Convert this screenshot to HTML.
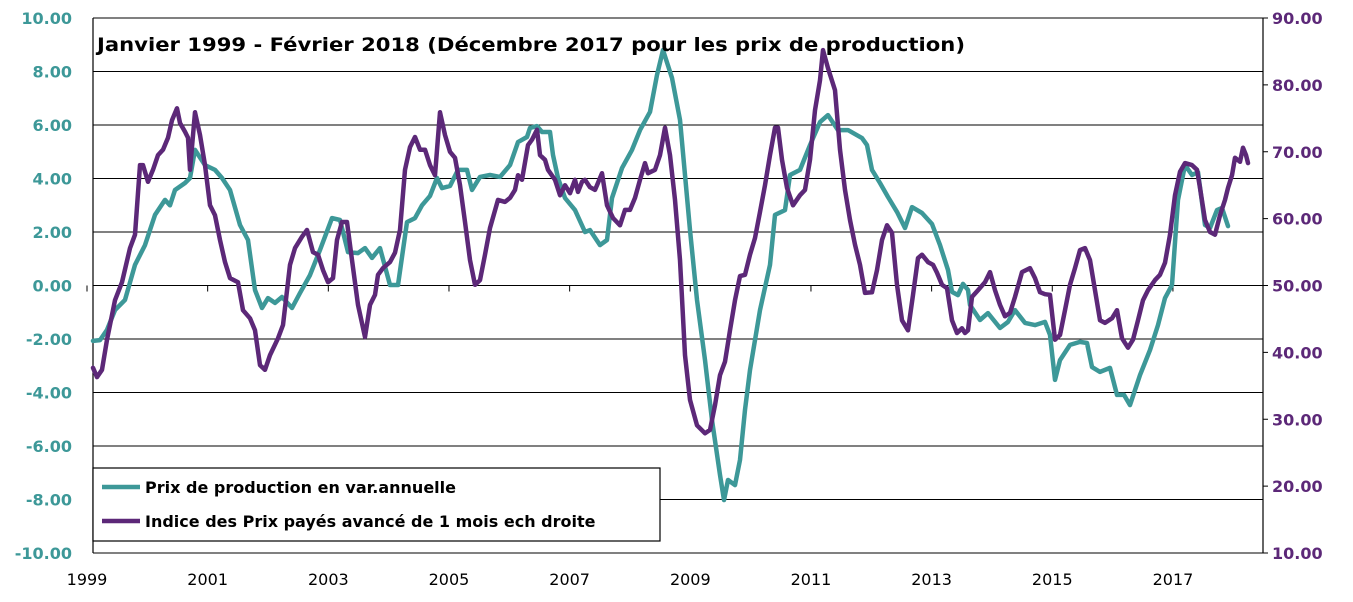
<!DOCTYPE html>
<html><head><meta charset="utf-8"><style>
html,body{margin:0;padding:0;background:#fff;}
svg{display:block;font-family:"DejaVu Sans","Liberation Sans",sans-serif;}
</style></head><body>
<svg id="chart" width="1353" height="602" viewBox="0 0 1353 602"></svg>
<script>
// Prix de production (left axis, %), month index from Jan 1999
const prodMonths=[0,1.4,2.8,4.4,6.4,8.4,10.4,12.4,14.4,15.4,16.4,18.4,19.4,20.4,22.4,24.4,25.8,27.4,29.4,31,32.4,33.8,35,36.4,37.8,39.8,41.4,43.4,45.4,47.8,49.4,51,53,54.4,55.8,57.4,59.4,61,62.8,64.4,65.8,67.4,68.8,69.8,71.4,73,74.8,75.8,77.4,79.4,81.4,83.4,85,86.8,87.4,88.8,89.8,91.4,92,93,94.4,96.4,98.4,99.4,101.4,102.8,103.8,105.8,107.8,109.4,111.4,112.8,114,115.8,117.4,119.4,120.8,122.4,123.8,125.4,126.2,127,128.4,129.4,130.4,131.4,133.4,135.4,136.4,138.4,139.4,141.4,143.4,145.4,147,149,151,153.8,154.8,155.8,157.4,159,160.8,162.4,163.8,165.8,167.8,169.4,171,171.8,173,174,175,175.4,177.4,179,181.4,183,184.4,186.4,188.4,190.4,191.4,192.4,193.4,195.4,197.4,198.8,199.8,201.4,203.4,204.8,206.2,207.4,209.4,211.4,213,214.4,215.8,217,218.4,219.8,221,222.4,223.4,224.8,225.8,227];
const prodValues=[-2.07,-2.04,-1.66,-0.92,-0.54,0.77,1.51,2.64,3.2,3.0,3.57,3.83,4.02,5.07,4.5,4.32,4.02,3.57,2.26,1.7,-0.17,-0.84,-0.47,-0.65,-0.43,-0.84,-0.28,0.39,1.33,2.52,2.45,1.25,1.21,1.4,1.03,1.4,0.02,0.02,2.37,2.52,3.0,3.35,4.02,3.64,3.72,4.32,4.32,3.57,4.06,4.13,4.06,4.5,5.36,5.55,5.89,5.96,5.74,5.74,4.88,4.02,3.27,2.82,2.0,2.07,1.51,1.7,3.27,4.39,5.07,5.81,6.49,7.87,8.8,7.76,6.19,2.07,-0.54,-2.79,-5.03,-7.08,-8.02,-7.27,-7.46,-6.52,-4.65,-3.16,-0.92,0.77,2.64,2.82,4.13,4.32,5.25,6.11,6.37,5.81,5.81,5.51,5.25,4.32,3.83,3.31,2.75,2.15,2.93,2.71,2.3,1.51,0.58,-0.24,-0.36,0.06,-0.17,-0.73,-1.29,-1.03,-1.59,-1.36,-0.92,-1.4,-1.48,-1.36,-1.85,-3.53,-2.79,-2.22,-2.11,-2.15,-3.05,-3.23,-3.08,-4.09,-4.09,-4.47,-3.35,-2.41,-1.48,-0.47,0.02,3.2,4.5,4.13,4.24,2.26,2.15,2.82,2.9,2.22];
// Indice des prix payés (right axis)
const payMonths=[0,0.8,1.8,2.8,4.4,5.8,7.4,8.4,9.4,10,11,12,13,14,15,15.8,16.8,17.4,18.4,19,19.4,20.4,21.4,22.4,23.4,24.4,25.4,26.4,27.4,29,30,31.4,32.4,33.4,34.4,35.4,37,38,39.4,40.4,41.8,42.8,44,45,46,47,48,48.8,49.8,50.8,51.8,53,54.4,55.4,56.4,57,58,59.4,60.4,61.4,62.4,63.4,64.4,65.4,66.4,67.4,68.4,69.4,70.4,71.4,72.4,73.4,74.4,75.4,76.4,77.4,78.4,79.4,81,82.4,83.4,84.4,85,85.8,87,87.8,88.8,89.4,90.4,91,92.4,93.4,94.4,95.4,96.4,97,97.8,98.4,99.4,100.4,100.8,101.8,102.8,104,105.4,106.4,107.4,108.4,109.4,110.4,111,112.4,113.4,114.4,115.4,116.4,117.4,118.4,119.4,120.8,122.4,123.4,124.4,125.4,126.4,127.4,128.4,129.4,130.4,131.4,132.4,133.4,134.4,135.4,136.4,137,137.8,138.8,140,141.4,142.4,143.4,144.4,145.4,146,147,148.4,149.4,150.4,151.4,152.4,153.4,154.4,155.8,156.8,157.8,158.8,159.8,160.8,161.8,163,164,165,165.8,167,168,168.8,169.8,170.8,171.8,172.8,173.8,174.4,175,175.8,177,178.4,179.4,180.4,181.4,182.4,183.4,184.4,185.8,187.4,188.4,189.4,190.4,191.4,192.4,193.4,194.4,195.4,196.4,197.4,198.4,199.4,200.4,201.4,202.4,203.8,204.8,205.8,207,208,209,210,211,212.4,213.4,214.4,215.4,216.4,217.4,218.4,219.8,220.8,221.4,222.4,223.4,224.4,225.4,226.4,227,227.8,228.4,229.4,230,230.6,231];
const payValues=[37.7,36.3,37.4,41.9,47.8,50.5,55.6,57.6,68.0,68.0,65.5,67.3,69.5,70.3,72.1,74.7,76.5,74.3,73.0,72.1,67.3,75.9,72.5,68.0,62.0,60.5,56.8,53.5,51.1,50.5,46.3,45.1,43.3,38.1,37.4,39.6,42.1,44.1,53.1,55.6,57.3,58.3,55.0,54.6,52.3,50.5,51.1,56.8,59.5,59.5,53.8,47.1,42.3,47.1,48.6,51.6,52.6,53.5,54.9,58.3,67.3,70.7,72.2,70.3,70.3,68.0,66.5,75.9,72.5,70.0,69.1,65.0,59.5,53.8,50.1,50.8,54.6,58.6,62.8,62.5,63.1,64.3,66.5,65.8,71.0,71.8,73.3,69.5,68.8,67.3,65.8,63.5,65.0,63.8,65.8,64.0,65.5,65.8,64.7,64.3,65.0,66.8,62.0,60.1,59.0,61.3,61.3,63.1,65.8,68.3,66.8,67.3,69.5,73.6,69.5,62.8,53.8,39.6,32.9,29.1,27.9,28.4,32.1,36.6,38.6,43.3,47.8,51.4,51.6,54.6,57.1,61.0,65.0,69.5,73.6,73.6,68.8,64.6,62.0,63.5,64.3,68.8,76.2,80.7,85.2,82.5,79.2,70.3,64.3,59.8,56.1,53.1,48.9,49.0,52.3,56.8,59.0,57.9,50.1,44.8,43.3,48.6,54.1,54.6,53.5,53.1,51.9,50.1,49.6,44.8,42.9,43.6,42.9,43.3,48.3,49.3,50.5,52.0,49.3,47.1,45.4,45.9,48.3,52.0,52.6,51.1,49.0,48.7,48.6,41.9,42.6,46.3,50.1,52.6,55.3,55.6,53.8,49.3,44.8,44.4,45.1,46.3,42.1,40.7,41.9,44.8,47.8,49.3,50.8,51.6,53.4,57.6,63.5,67.0,68.3,68.0,67.3,64.6,59.8,58.0,57.6,60.5,62.8,64.6,66.5,69.1,68.5,70.6,69.5,68.3];
const leftTicks=[10,8,6,4,2,0,-2,-4,-6,-8,-10];
const rightTicks=[90,80,70,60,50,40,30,20,10];
const yearLabels=[1999,2001,2003,2005,2007,2009,2011,2013,2015,2017];

const NS="http://www.w3.org/2000/svg";
const svg=document.getElementById('chart');
const L=93,R=1263,T=18,B=553;
const yL=v=>T+(10-v)*(B-T)/20;
const yR=v=>T+(90-v)*(B-T)/80;
const xM=m=>93+m*5.0;
const xY=y=>87+(y-1999)*60.33;
function mk(tag,attrs,parent){const e=document.createElementNS(NS,tag);for(const k in attrs)e.setAttribute(k,attrs[k]);(parent||svg).appendChild(e);return e;}

leftTicks.forEach(v=>{
  const g=mk('line',{x1:L,x2:R,y1:yL(v),y2:yL(v),stroke:'#000','stroke-width':1});
  
  
  const t=mk('text',{x:72,y:yL(v)+6,'text-anchor':'end','font-size':16,'font-weight':'bold',fill:'#3d9898'});
  t.textContent=v.toFixed(2);
  
  
});
rightTicks.forEach(v=>{
  const t=mk('text',{x:1272,y:yR(v)+6,'font-size':16,'font-weight':'bold',fill:'#5c2878'});
  t.textContent=v.toFixed(2);
  
  
  const tk=mk('line',{x1:R,x2:R+5,y1:yR(v),y2:yR(v),stroke:'#000'});
  
  
});
const ax1=mk('line',{x1:L,x2:L,y1:T,y2:B,stroke:'#000','stroke-width':1.2});


const ax2=mk('line',{x1:R,x2:R,y1:T,y2:B,stroke:'#000','stroke-width':1.2});


yearLabels.forEach(y=>{
  const tk=mk('line',{x1:xY(y),x2:xY(y),y1:yL(0),y2:yL(0)+6,stroke:'#000'});
  
  
  const t=mk('text',{x:xY(y),y:585,'text-anchor':'middle','font-size':16,fill:'#000'});
  t.textContent=y;
  
  
});
function line(ms,vs,ys,color,name){
  const d=ms.map((m,i)=>(i?'L':'M')+xM(m).toFixed(1)+','+ys(vs[i]).toFixed(1)).join('');
  const p=mk('path',{d:d,fill:'none',stroke:color,'stroke-width':4.5,'stroke-linejoin':'round','stroke-linecap':'round'});
  
  
}
line(prodMonths,prodValues,yL,'#3d9898','prod-price-line');
line(payMonths,payValues,yR,'#5c2878','paid-price-index-line');

const tt=mk('text',{x:97,y:51,'font-size':19,'font-weight':'bold',fill:'#000',textLength:868,lengthAdjust:'spacingAndGlyphs'});
tt.textContent='Janvier 1999 - Février 2018 (Décembre 2017 pour les prix de production)';



const lg=mk('g',{});


mk('rect',{x:93,y:468,width:567,height:73,fill:'#fff',stroke:'#000','stroke-width':1.2},lg);
const e1=mk('line',{x1:102,x2:140,y1:487,y2:487,stroke:'#3d9898','stroke-width':4.5},lg);


const t1=mk('text',{x:145,y:493,'font-size':16,'font-weight':'bold',fill:'#000'},lg);
t1.textContent='Prix de production en var.annuelle';


const e2=mk('line',{x1:102,x2:140,y1:521,y2:521,stroke:'#5c2878','stroke-width':4.5},lg);


const t2=mk('text',{x:145,y:527,'font-size':16,'font-weight':'bold',fill:'#000'},lg);
t2.textContent='Indice des Prix payés avancé de 1 mois ech droite';


</script>
</body></html>
